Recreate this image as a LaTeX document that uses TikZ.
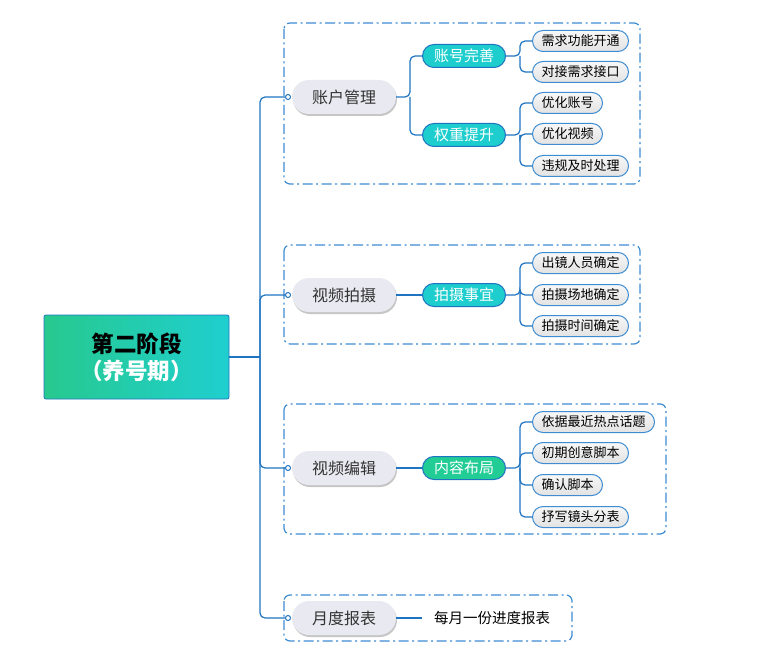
\documentclass[tikz,border=0pt]{standalone}
\usepackage{fontspec}
\setmainfont{Noto Sans CJK SC}
\usetikzlibrary{shadows,positioning}
\definecolor{linkblue}{HTML}{1F74C2}
\definecolor{frameblue}{HTML}{3E8CD2}
\definecolor{pillgray}{HTML}{E9E9F1}
\definecolor{darktext}{HTML}{333333}
\definecolor{cyanfill}{HTML}{1ECDCD}
\definecolor{greenfill}{HTML}{22CC95}
\definecolor{rootleft}{HTML}{27C98E}
\definecolor{rootright}{HTML}{1FCFCF}

\begin{document}
\begin{tikzpicture}[x=1pt,y=-1pt,
  conn/.style={draw=linkblue,line width=1.2pt,rounded corners=5pt},
  frame/.style={draw=frameblue,line width=1.2pt,rounded corners=6pt,
                dash pattern=on 10pt off 3.5pt on 2pt off 3.5pt},
  rootbox/.style={draw=linkblue,line width=0.8pt,rounded corners=2pt,left color=rootleft,
                  right color=rootright,minimum width=185pt,minimum height=84pt,align=center,
                  font=\fontsize{22.5}{27}\selectfont\bfseries},
  topic/.style={rounded corners=17pt,fill=pillgray,minimum width=104pt,minimum height=34pt,
                font=\fontsize{16}{16}\selectfont,text=darktext,
                drop shadow={shadow xshift=1pt,shadow yshift=-2pt,fill=gray,opacity=0.45}},
  dot/.style={circle,draw=linkblue,fill=white,line width=1pt,inner sep=0pt,minimum size=5pt},
  task/.style={draw=linkblue,line width=1pt,rounded corners=11.5pt,minimum width=83pt,
               minimum height=23pt,text=white,font=\fontsize{15}{15}\selectfont},
  item/.style={anchor=west,draw=frameblue,line width=1pt,rounded corners=10.5pt,
               top color=gray!6,bottom color=gray!22,minimum height=21pt,inner xsep=9pt,
               font=\fontsize{13}{13}\selectfont}
]
\useasboundingbox (0,0) rectangle (768,663);

% dashed groups
\draw[frame] (284,23) rectangle (640,184);
\draw[frame] (284,245) rectangle (640,344);
\draw[frame] (284,404) rectangle (666,534);
\draw[frame] (284,595) rectangle (572,641);

\node[rootbox] (root) at (136.5,357) {第二阶段\\{\color{white}（养号期）}};

\node[topic] (acct)   at (344,97)  {账户管理};
\node[topic] (shoot)  at (344,295) {视频拍摄};
\node[topic] (edit)   at (344,468) {视频编辑};
\node[topic] (report) at (344,618) {月度报表};

\node[dot] (acctdot)   at (288,97)  {};
\node[dot] (shootdot)  at (288,295) {};
\node[dot] (editdot)   at (288,468) {};
\node[dot] (reportdot) at (288,618) {};

\node[task,fill=cyanfill]  (perfect) at (464,56)  {账号完善};
\node[task,fill=cyanfill]  (weight)  at (464,135) {权重提升};
\node[task,fill=cyanfill]  (matter)  at (464,295) {拍摄事宜};
\node[task,fill=greenfill] (layout)  at (464,468) {内容布局};

\node[item] (need)    at (532,41)  {需求功能开通};
\node[item] (api)     at (532,72)  {对接需求接口};
\node[item] (optacct) at (532,103) {优化账号};
\node[item] (optvid)  at (532,134) {优化视频};
\node[item] (rules)   at (532,166) {违规及时处理};

\node[item] (cast)  at (532,263) {出镜人员确定};
\node[item] (site)  at (532,295) {拍摄场地确定};
\node[item] (time)  at (532,326) {拍摄时间确定};

\node[item] (topics) at (532,422) {依据最近热点话题};
\node[item] (idea)   at (532,453) {初期创意脚本};
\node[item] (script) at (532,485) {确认脚本};
\node[item] (shots)  at (532,517) {抒写镜头分表};

\node[anchor=west,inner xsep=12pt,font=\fontsize{14.5}{14.5}\selectfont] (monthly) at (422,618) {每月一份进度报表};

% trunk
\coordinate (trunk) at (260,357);
\draw[conn] (root.east) -- (trunk);
\draw[conn] (trunk) |- (acctdot);
\draw[conn] (trunk) |- (shootdot);
\draw[conn] (trunk) |- (editdot);
\draw[conn] (trunk) |- (reportdot);

% topics to tasks
\coordinate (acctfork) at (410,97);
\draw[conn] (acct.east) -- (acctfork) |- (perfect.west);
\draw[conn] (acctfork) |- (weight.west);
\draw[conn] (shoot.east) -- (matter.west);
\draw[conn] (edit.east) -- (layout.west);
\draw[conn] (report.east) -- (monthly.west);

% tasks to items
\coordinate (perffork) at (520,56);
\draw[conn] (perfect.east) -- (perffork) |- (need.west);
\draw[conn] (perffork) |- (api.west);
\coordinate (weightfork) at (520,135);
\draw[conn] (weight.east) -- (weightfork) |- (optacct.west);
\draw[conn] (weightfork) |- (optvid.west);
\draw[conn] (weightfork) |- (rules.west);
\coordinate (matterfork) at (520,295);
\draw[conn] (matter.east) -- (matterfork) |- (cast.west);
\draw[conn] (matterfork) |- (site.west);
\draw[conn] (matterfork) |- (time.west);
\coordinate (layoutfork) at (520,468);
\draw[conn] (layout.east) -- (layoutfork) |- (topics.west);
\draw[conn] (layoutfork) |- (idea.west);
\draw[conn] (layoutfork) |- (script.west);
\draw[conn] (layoutfork) |- (shots.west);
\end{tikzpicture}
\end{document}
